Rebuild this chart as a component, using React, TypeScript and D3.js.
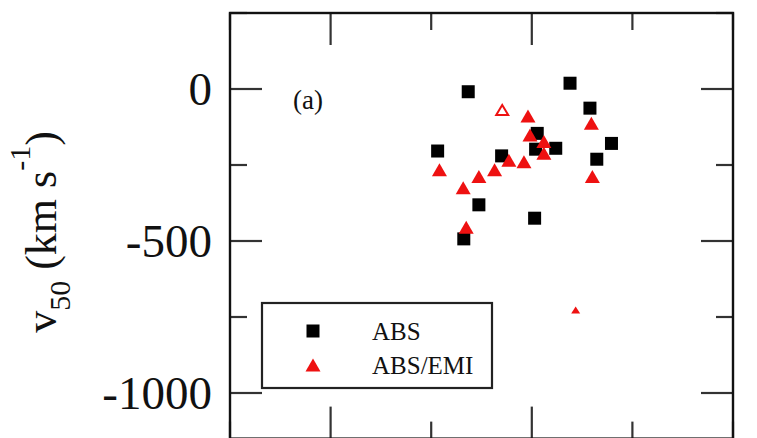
import React from "react";
import * as d3 from "d3";

const absX = [0.684, 1.19, 1.289, 1.396, 1.323, 0.532, 0.85, 1.027, 1.019, 1.119, 0.737, 1.014, 0.662];
const absY = [-9, 19, -63, -179, -231, -204, -220, -146, -198, -195, -381, -425, -493];

const emiX = [0.981, 0.991, 1.06, 1.06, 0.886, 0.961, 0.815, 0.737, 0.659, 0.541, 1.296, 1.301, 0.674];
const emiY = [-89, -151, -173, -211, -234, -239, -266, -288, -325, -266, -113, -288, -455];

const hollowX = [0.853];
const hollowY = [-69];

const smallX = [1.218];
const smallY = [-727];

const yMajor = [0, -500, -1000];
const yMinor = [250, -250, -750];
const xMajor = [0, 1];
const xMinor = [-0.5, 0.5, 1.5, 2];

const legendLabels = ["ABS", "ABS/EMI"];

const RED = "#ee1111";
const FONT = "'Liberation Serif', 'Times New Roman', serif";

function tri(cx: number, cy: number, w: number, h: number) {
  return `M${cx},${cy - h / 2}L${cx + w / 2},${cy + h / 2}L${cx - w / 2},${cy + h / 2}Z`;
}

export default function App() {
  const L = 230, R = 733, T = 13;
  const x = d3.scaleLinear().domain([-0.5, 2]).range([L, R]);
  const y = d3.scaleLinear().domain([0, -1000]).range([89, 393]);
  const B = y(-1150);
  const maj = 32, min = 17;
  const tickColor = "#333";

  return (
    <svg width={757} height={438} style={{ position: "absolute", left: 0, top: 0, background: "#fff" }}>
      <rect x={0} y={0} width={757} height={438} fill="#fff" />
      {yMajor.map((v) => (
        <g key={"ym" + v}>
          <line x1={L} x2={L + maj} y1={y(v)} y2={y(v)} stroke={tickColor} strokeWidth={2.2} />
          <line x1={R} x2={R - maj} y1={y(v)} y2={y(v)} stroke={tickColor} strokeWidth={2.2} />
          <text x={212} y={y(v) + 16} fontFamily={FONT} fontSize={47} textAnchor="end" fill="#111">
            {v === 0 ? "0" : String(v)}
          </text>
        </g>
      ))}
      {yMinor.map((v) => (
        <g key={"yn" + v}>
          <line x1={L} x2={L + min} y1={y(v)} y2={y(v)} stroke={tickColor} strokeWidth={2.2} />
          <line x1={R} x2={R - min} y1={y(v)} y2={y(v)} stroke={tickColor} strokeWidth={2.2} />
        </g>
      ))}
      {xMajor.map((v) => (
        <g key={"xm" + v}>
          <line x1={x(v)} x2={x(v)} y1={T} y2={T + maj} stroke={tickColor} strokeWidth={2.2} />
          <line x1={x(v)} x2={x(v)} y1={B} y2={B - maj} stroke={tickColor} strokeWidth={2.2} />
        </g>
      ))}
      {xMinor.map((v) => (
        <g key={"xn" + v}>
          <line x1={x(v)} x2={x(v)} y1={T} y2={T + min} stroke={tickColor} strokeWidth={2.2} />
          <line x1={x(v)} x2={x(v)} y1={B} y2={B - min} stroke={tickColor} strokeWidth={2.2} />
        </g>
      ))}
      <rect x={L} y={T} width={R - L} height={B - T} fill="none" stroke="#111" strokeWidth={2.4} />

      <text x={293} y={109} fontFamily={FONT} fontSize={27} fill="#111">(a)</text>

      {absX.map((v, i) => (
        <rect key={"s" + i} x={x(v) - 6.5} y={y(absY[i]) - 6.5} width={13} height={13} fill="#000" />
      ))}
      {emiX.map((v, i) => (
        <path key={"t" + i} d={tri(x(v), y(emiY[i]), 15, 13)} fill={RED} />
      ))}
      {hollowX.map((v, i) => (
        <path key={"h" + i} d={tri(x(v), y(hollowY[i]), 12, 10)} fill="#fff" stroke={RED} strokeWidth={2} />
      ))}
      {smallX.map((v, i) => (
        <path key={"m" + i} d={tri(x(v), y(smallY[i]), 9, 7)} fill={RED} />
      ))}

      <rect x={262} y={303} width={230} height={85} fill="#fff" stroke="#222" strokeWidth={2.2} />
      <rect x={313 - 6.5} y={331 - 6.5} width={13} height={13} fill="#000" />
      <path d={tri(313, 365, 15, 13)} fill={RED} />
      <text x={372} y={340} fontFamily={FONT} fontSize={25} fill="#111">{legendLabels[0]}</text>
      <text x={372} y={374} fontFamily={FONT} fontSize={25} fill="#111">{legendLabels[1]}</text>

      <text transform="translate(56,232) rotate(-90)" fontFamily={FONT} fontSize={44} textAnchor="middle" fill="#111">
        <tspan>v</tspan>
        <tspan fontSize={30} dy={14}>50</tspan>
        <tspan dy={-14}> (km s</tspan>
        <tspan fontSize={30} dy={-26}>-1</tspan>
        <tspan dy={26}>)</tspan>
      </text>
    </svg>
  );
}
